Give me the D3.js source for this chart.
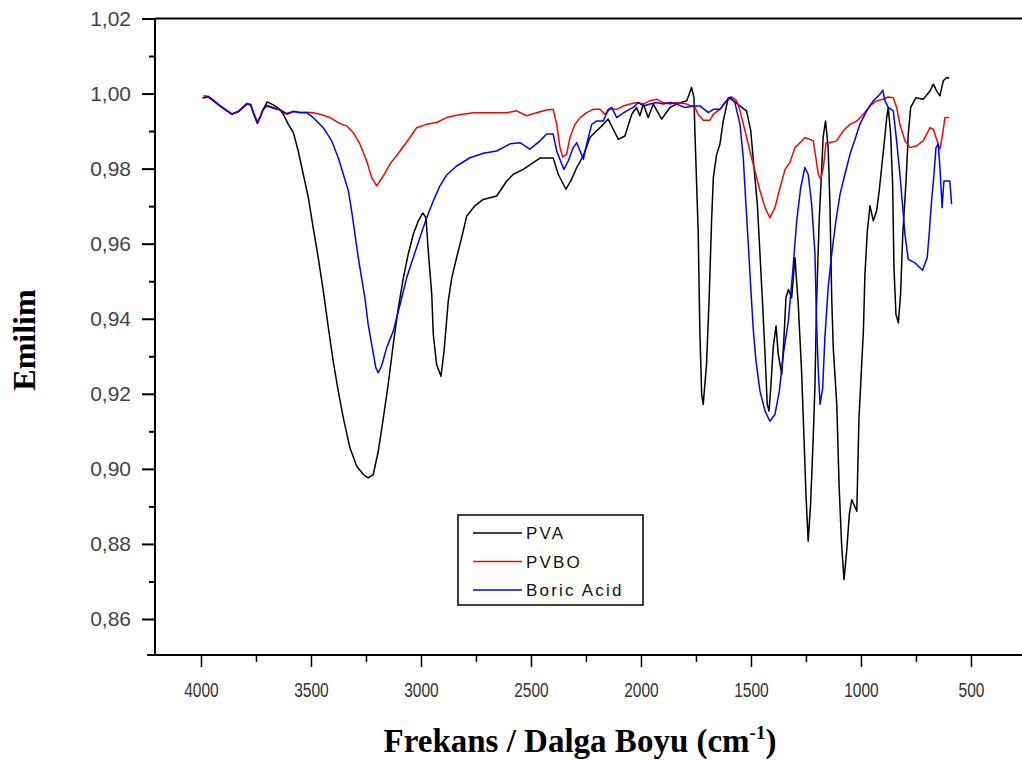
<!DOCTYPE html>
<html>
<head>
<meta charset="utf-8">
<script src="https://cdn.jsdelivr.net/npm/d3@7/dist/d3.min.js"></script>
<style>
  body { margin: 0; background: #fff; }
  svg { display: block; }
</style>
</head>
<body>
<div id="chart"></div>
<script>
// wavenumber (cm-1), emission value
const pva = [
  [3992,0.9989],[3967,0.9991],[3944,0.9981],[3914,0.9967],[3860,0.9945],[3830,0.9952],[3792,0.9972],
  [3774,0.9970],[3762,0.9949],[3744,0.9923],[3732,0.9936],[3717,0.9958],[3699,0.9978],[3671,0.9970],
  [3641,0.9958],[3626,0.9945],[3603,0.9918],[3580,0.9896],[3558,0.9847],[3535,0.9785],[3512,0.9723],
  [3490,0.9643],[3467,0.9563],[3444,0.9474],[3421,0.9376],[3399,0.9287],[3376,0.9207],[3353,0.9136],
  [3323,0.9056],[3292,0.9007],[3262,0.8985],[3240,0.8976],[3217,0.8985],[3194,0.9047],[3171,0.9136],
  [3149,0.9225],[3126,0.9332],[3103,0.9429],[3080,0.9509],[3058,0.9572],[3035,0.9625],[3012,0.9661],
  [2992,0.9682],[2977,0.9669],[2967,0.9581],[2951,0.9465],[2944,0.9358],[2929,0.9278],[2909,0.9247],
  [2895,0.9314],[2876,0.9447],[2860,0.9509],[2838,0.9563],[2815,0.9616],[2792,0.9674],[2755,0.9701],
  [2717,0.9718],[2656,0.9727],[2610,0.9767],[2580,0.9785],[2535,0.9798],[2459,0.9828],[2399,0.9828],
  [2376,0.9785],[2341,0.9745],[2315,0.9772],[2292,0.9803],[2262,0.9834],[2232,0.9883],[2201,0.9901],
  [2171,0.9918],[2149,0.9932],[2126,0.9905],[2103,0.9878],[2073,0.9887],[2042,0.9945],[2020,0.9963],
  [2005,0.9941],[1989,0.9972],[1967,0.9936],[1944,0.9972],[1906,0.9932],[1868,0.9963],[1838,0.9972],
  [1792,0.9981],[1770,1.0016],[1759,0.9989],[1755,0.9901],[1740,0.9634],[1732,0.9358],[1724,0.9198],
  [1717,0.9172],[1702,0.9278],[1690,0.9456],[1679,0.9661],[1671,0.9776],[1656,0.9838],[1641,0.9865],
  [1626,0.9927],[1603,0.9989],[1580,0.9981],[1542,0.9963],[1520,0.9954],[1501,0.9901],[1489,0.9821],
  [1471,0.9705],[1459,0.9572],[1447,0.9438],[1436,0.9305],[1426,0.9172],[1418,0.9154],[1410,0.9216],
  [1399,0.9323],[1386,0.9381],[1376,0.9305],[1360,0.9252],[1350,0.9349],[1341,0.9456],[1330,0.9478],
  [1315,0.9456],[1300,0.9563],[1285,0.9438],[1270,0.9261],[1259,0.9083],[1250,0.8932],[1240,0.8807],
  [1229,0.8905],[1217,0.9083],[1209,0.9225],[1202,0.9438],[1190,0.9661],[1179,0.9794],[1172,0.9883],
  [1161,0.9927],[1149,0.9856],[1141,0.9705],[1133,0.9456],[1126,0.9323],[1110,0.9172],[1099,0.8949],
  [1088,0.8798],[1077,0.8705],[1065,0.8781],[1053,0.8878],[1042,0.8918],[1032,0.8905],[1019,0.8887],
  [1009,0.9136],[989,0.9367],[982,0.9518],[971,0.9634],[959,0.9701],[944,0.9661],[929,0.9687],
  [917,0.9741],[906,0.9803],[895,0.9865],[883,0.9936],[876,0.9963],[865,0.9892],[856,0.9758],
  [850,0.9536],[841,0.9412],[830,0.9389],[820,0.9465],[810,0.9625],[795,0.9767],[785,0.9892],
  [774,0.9963],[750,0.9989],[717,0.9985],[686,1.0007],[671,1.0025],[656,1.0007],[641,0.9994],
  [626,1.0034],[610,1.0043],[599,1.0041]
];

const pvbo = [
  [3989,0.9994],[3967,0.9993],[3944,0.9983],[3914,0.9968],[3860,0.9946],[3830,0.9953],[3792,0.9974],
  [3774,0.9971],[3762,0.9950],[3744,0.9925],[3732,0.9937],[3717,0.9959],[3699,0.9969],[3671,0.9963],
  [3641,0.9957],[3610,0.9947],[3580,0.9953],[3550,0.9950],[3520,0.9950],[3490,0.9949],[3459,0.9945],
  [3414,0.9936],[3368,0.9920],[3338,0.9914],[3308,0.9896],[3277,0.9865],[3247,0.9821],[3224,0.9776],
  [3201,0.9754],[3171,0.9781],[3141,0.9812],[3095,0.9847],[3050,0.9883],[3020,0.9909],[2974,0.9918],
  [2929,0.9923],[2883,0.9936],[2838,0.9942],[2808,0.9945],[2762,0.9949],[2610,0.9949],[2565,0.9954],
  [2520,0.9941],[2474,0.9949],[2429,0.9956],[2399,0.9958],[2383,0.9918],[2368,0.9856],[2356,0.9831],
  [2338,0.9838],[2323,0.9883],[2300,0.9918],[2277,0.9936],[2247,0.9949],[2217,0.9958],[2186,0.9958],
  [2164,0.9945],[2141,0.9958],[2110,0.9958],[2080,0.9967],[2050,0.9972],[2020,0.9976],[1989,0.9972],
  [1959,0.9981],[1929,0.9985],[1899,0.9976],[1868,0.9972],[1838,0.9976],[1792,0.9972],[1755,0.9963],
  [1740,0.9945],[1717,0.9929],[1686,0.9929],[1671,0.9945],[1641,0.9958],[1610,0.9981],[1588,0.9991],
  [1565,0.9981],[1550,0.9954],[1527,0.9901],[1505,0.9847],[1482,0.9794],[1459,0.9741],[1436,0.9696],
  [1414,0.9669],[1391,0.9696],[1368,0.9749],[1345,0.9798],[1323,0.9816],[1300,0.9856],[1277,0.9869],
  [1255,0.9883],[1232,0.9878],[1217,0.9874],[1205,0.9829],[1194,0.9785],[1183,0.9772],[1171,0.9803],
  [1159,0.9869],[1141,0.9869],[1111,0.9874],[1080,0.9901],[1050,0.9918],[1019,0.9927],[989,0.9945],
  [959,0.9967],[929,0.9981],[899,0.9985],[876,0.9991],[853,0.9989],[838,0.9963],[823,0.9918],
  [800,0.9874],[777,0.9856],[747,0.9861],[717,0.9874],[686,0.9909],[671,0.9905],[659,0.9883],
  [641,0.9852],[629,0.9892],[618,0.9936],[599,0.9936]
];

const boricAcid = [
  [3992,0.9989],[3967,0.9991],[3944,0.9981],[3914,0.9967],[3860,0.9945],[3830,0.9952],[3792,0.9972],
  [3774,0.9970],[3762,0.9949],[3744,0.9920],[3732,0.9935],[3717,0.9958],[3699,0.9967],[3671,0.9961],
  [3641,0.9956],[3610,0.9945],[3580,0.9952],[3550,0.9949],[3520,0.9949],[3490,0.9936],[3444,0.9909],
  [3406,0.9874],[3376,0.9829],[3353,0.9785],[3330,0.9741],[3315,0.9687],[3300,0.9625],[3285,0.9563],
  [3270,0.9509],[3255,0.9456],[3240,0.9385],[3224,0.9332],[3205,0.9269],[3194,0.9256],[3179,0.9274],
  [3156,0.9323],[3126,0.9367],[3095,0.9438],[3065,0.9509],[3035,0.9563],[3005,0.9616],[2974,0.9669],
  [2944,0.9714],[2914,0.9754],[2883,0.9783],[2838,0.9807],[2777,0.9829],[2717,0.9841],[2656,0.9847],
  [2595,0.9866],[2550,0.9869],[2505,0.9852],[2459,0.9874],[2429,0.9892],[2399,0.9892],[2383,0.9847],
  [2360,0.9812],[2350,0.9798],[2330,0.9821],[2308,0.9856],[2292,0.9869],[2277,0.9847],[2262,0.9825],
  [2247,0.9865],[2224,0.9918],[2201,0.9927],[2171,0.9927],[2149,0.9958],[2133,0.9963],[2110,0.9936],
  [2088,0.9945],[2065,0.9954],[2035,0.9963],[2012,0.9976],[1989,0.9967],[1959,0.9972],[1929,0.9976],
  [1899,0.9972],[1868,0.9976],[1838,0.9972],[1800,0.9963],[1762,0.9967],[1732,0.9967],[1694,0.9949],
  [1671,0.9958],[1641,0.9958],[1618,0.9976],[1595,0.9991],[1573,0.9976],[1550,0.9918],[1535,0.9829],
  [1523,0.9705],[1512,0.9598],[1501,0.9483],[1489,0.9367],[1477,0.9287],[1459,0.9207],[1436,0.9154],
  [1414,0.9127],[1391,0.9145],[1371,0.9207],[1353,0.9305],[1330,0.9394],[1310,0.9527],[1292,0.9661],
  [1274,0.9749],[1255,0.9803],[1240,0.9785],[1224,0.9705],[1209,0.9572],[1202,0.9394],[1194,0.9261],
  [1186,0.9172],[1174,0.9216],[1164,0.9349],[1149,0.9483],[1133,0.9572],[1114,0.9661],[1095,0.9732],
  [1073,0.9785],[1050,0.9838],[1027,0.9878],[1005,0.9918],[974,0.9954],[944,0.9981],[914,0.9998],
  [901,1.0009],[891,0.9981],[876,0.9963],[853,0.9954],[838,0.9874],[823,0.9785],[810,0.9696],
  [800,0.9625],[785,0.9558],[755,0.9549],[720,0.9529],[699,0.9563],[690,0.9625],[679,0.9714],
  [668,0.9785],[659,0.9856],[649,0.9865],[641,0.9803],[631,0.9696],[623,0.9767],[596,0.9767],
  [588,0.9705]
];

const xTicks = [4000, 3500, 3000, 2500, 2000, 1500, 1000, 500];
const xMinor = [3750, 3250, 2750, 2250, 1750, 1250, 750];
const yTicks = [1.02, 1.00, 0.98, 0.96, 0.94, 0.92, 0.90, 0.88, 0.86];
const yMinor = [1.01, 0.99, 0.97, 0.95, 0.93, 0.91, 0.89, 0.87];

const seriesNames = ["PVA", "PVBO", "Boric Acid"];
const seriesColors = ["#000000", "#ff0000", "#0000ff"];

const W = 1022, H = 760;
const plotLeft = 155, plotTop = 18.5, plotBottom = 655, plotRight = 1022;

const svg = d3.select("#chart").append("svg")
  .attr("width", W)
  .attr("height", H);

const x = d3.scaleLinear().domain([4209, 268]).range([plotLeft, plotRight]);
const y = d3.scaleLinear().domain([1.02, 0.86]).range([plotTop, 619]);

// frame top
svg.append("line")
  .attr("x1", plotLeft).attr("x2", plotRight)
  .attr("y1", plotTop).attr("y2", plotTop)
  .attr("stroke", "#000").attr("stroke-width", 2);

// y axis
const yAxis = svg.append("g")
  .attr("transform", "translate(" + plotLeft + ",0)")
  .call(d3.axisLeft(y).tickValues(yTicks).tickSize(13).tickSizeOuter(0).tickPadding(11)
    .tickFormat(d => d.toFixed(2).replace(".", ",")));
yAxis.select(".domain").attr("d", "M0," + plotTop + "V" + plotBottom).attr("stroke-width", 2);
yAxis.selectAll(".tick line").attr("stroke-width", 2);
yAxis.selectAll("text")
  .style("font-family", "'Liberation Sans', Arial, sans-serif")
  .style("font-size", "21px")
  .attr("fill", "#463f4c");

svg.append("g")
  .attr("transform", "translate(" + plotLeft + ",0)")
  .call(d3.axisLeft(y).tickValues(yMinor).tickSize(6).tickFormat(""))
  .call(g => g.select(".domain").remove())
  .selectAll("line").attr("stroke-width", 2);

// x axis
const xAxis = svg.append("g")
  .attr("transform", "translate(0," + plotBottom + ")")
  .call(d3.axisBottom(x).tickValues(xTicks).tickSize(12).tickSizeOuter(0).tickPadding(15)
    .tickFormat(d3.format("d")));
xAxis.select(".domain").attr("d", "M" + (plotLeft - 8) + ",0H" + plotRight).attr("stroke-width", 2);
xAxis.selectAll(".tick line").attr("stroke-width", 1.5);
xAxis.selectAll("text")
  .style("font-family", "'Liberation Sans', Arial, sans-serif")
  .style("font-size", "21px")
  .attr("fill", "#333")
  .attr("transform", "scale(0.74,1)");

svg.append("g")
  .attr("transform", "translate(0," + plotBottom + ")")
  .call(d3.axisBottom(x).tickValues(xMinor).tickSize(7).tickFormat(""))
  .call(g => g.select(".domain").remove())
  .selectAll("line").attr("stroke-width", 1.5);

// axis titles
svg.append("text")
  .attr("transform", "translate(35,340) rotate(-90)")
  .attr("text-anchor", "middle")
  .style("font-family", "'Liberation Serif', 'Times New Roman', serif")
  .style("font-weight", "bold")
  .style("font-size", "32px")
  .text("Emilim");

const xt = svg.append("text")
  .attr("x", 580).attr("y", 752)
  .attr("text-anchor", "middle")
  .style("font-family", "'Liberation Serif', 'Times New Roman', serif")
  .style("font-weight", "bold")
  .style("font-size", "33px");
xt.append("tspan").text("Frekans / Dalga Boyu (cm");
xt.append("tspan").attr("dy", -13).style("font-size", "19px").text("-1");
xt.append("tspan").attr("dy", 13).text(")");

// curves
const line = d3.line()
  .x(d => x(d[0]))
  .y(d => y(d[1]));

[pva, pvbo, boricAcid].forEach((s, i) => {
  svg.append("path")
    .datum(s)
    .attr("fill", "none")
    .attr("stroke", seriesColors[i])
    .attr("stroke-width", 1.5)
    .attr("stroke-linejoin", "round")
    .attr("d", line);
});

// legend
const lg = svg.append("g");
lg.append("rect")
  .attr("x", 458).attr("y", 515)
  .attr("width", 185).attr("height", 90)
  .attr("fill", "#fff")
  .attr("stroke", "#000")
  .attr("stroke-width", 1.5);

seriesNames.forEach((name, i) => {
  const yy = 533 + i * 28.5;
  lg.append("line")
    .attr("x1", 473).attr("x2", 522)
    .attr("y1", yy).attr("y2", yy)
    .attr("stroke", seriesColors[i])
    .attr("stroke-width", 1.5);
  lg.append("text")
    .attr("x", 526).attr("y", yy)
    .attr("dy", "0.36em")
    .style("font-family", "'Liberation Sans', Arial, sans-serif")
    .style("font-size", "17px")
    .style("letter-spacing", "2.2px")
    .attr("fill", "#111")
    .text(name);
});
</script>
</body>
</html>
